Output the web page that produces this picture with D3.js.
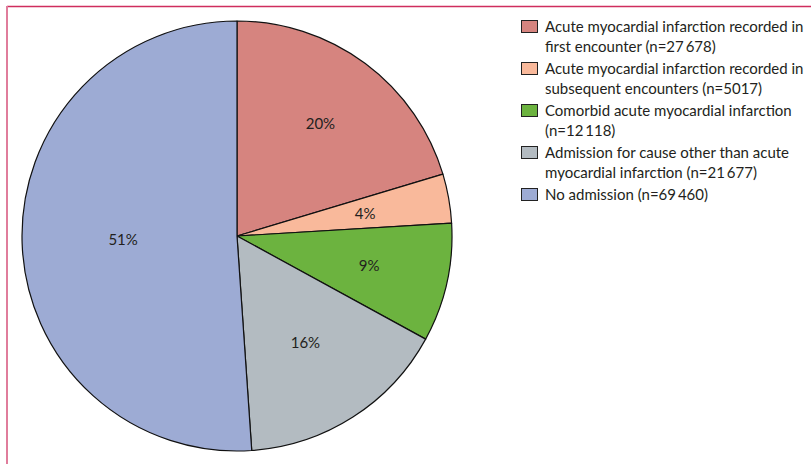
<!DOCTYPE html>
<html><head><meta charset="utf-8">
<script src="https://cdn.jsdelivr.net/npm/d3@7"></script>
<style>body{margin:0;background:#fff}svg{display:block}</style>
</head><body>
<svg id="c" width="811" height="464"></svg>
<script>
const categories = [
  ["Acute myocardial infarction recorded in", "first encounter (n=27\u2009678)"],
  ["Acute myocardial infarction recorded in", "subsequent encounters (n=5017)"],
  ["Comorbid acute myocardial infarction", "(n=12\u2009118)"],
  ["Admission for cause other than acute", "myocardial infarction (n=21\u2009677)"],
  ["No admission (n=69\u2009460)"]
];
const counts = [27678, 5017, 12118, 21677, 69460];
const pctLabels = ["20%", "4%", "9%", "16%", "51%"];
const colors = ["#d6847f", "#f9b99b", "#6cb33f", "#b3bbc1", "#9dabd4"];

const svg = d3.select("#c");
const font = "Lato, 'Open Sans', sans-serif";

// frame
svg.append("line").attr("x1", 7).attr("x2", 811).attr("y1", 6.5).attr("y2", 6.5)
  .attr("stroke", "#cf2d5e").attr("stroke-width", 1.5);
svg.append("line").attr("x1", 7).attr("x2", 7).attr("y1", 6).attr("y2", 464)
  .attr("stroke", "#e07d9c").attr("stroke-width", 2);

const cx = 237, cy = 236, R = 215;
const pie = d3.pie().sort(null).value(d => d);
const arcs = pie(counts);
const arc = d3.arc().innerRadius(0).outerRadius(R);
// label placement (fraction of radius) per slice, as in the original layout
const labelFrac = [0.65, 0.605, 0.63, 0.59, 0.53];

const g = svg.append("g").attr("transform", `translate(${cx},${cy})`);
g.selectAll("path").data(arcs).join("path")
  .attr("d", arc)
  .attr("fill", (d, i) => colors[i])
  .attr("stroke", "#111").attr("stroke-width", 1.2).attr("stroke-linejoin", "round");

g.selectAll("text").data(arcs).join("text")
  .attr("transform", (d, i) => {
    const r = R * labelFrac[i];
    const la = d3.arc().innerRadius(r).outerRadius(r);
    return `translate(${la.centroid(d)})`;
  })
  .attr("text-anchor", "middle").attr("dy", "0.35em")
  .attr("font-family", font).attr("font-size", 15).attr("fill", "#231f20")
  .text((d, i) => pctLabels[i]);

// legend
const lg = svg.append("g").attr("transform", "translate(521,21)");
let y = 0;
const lineH = 20;
categories.forEach((lines, i) => {
  lg.append("rect").attr("x", 0.5).attr("y", y - 0.5).attr("width", 16).attr("height", 12)
    .attr("fill", colors[i]).attr("stroke", "#222").attr("stroke-width", 1);
  lines.forEach((t, j) => {
    lg.append("text").attr("x", 24).attr("y", y + 11 + j * lineH)
      .attr("font-family", font).attr("font-size", 15).attr("fill", "#231f20").text(t);
  });
  y += lines.length * lineH + 2;
});
</script>
</body></html>
